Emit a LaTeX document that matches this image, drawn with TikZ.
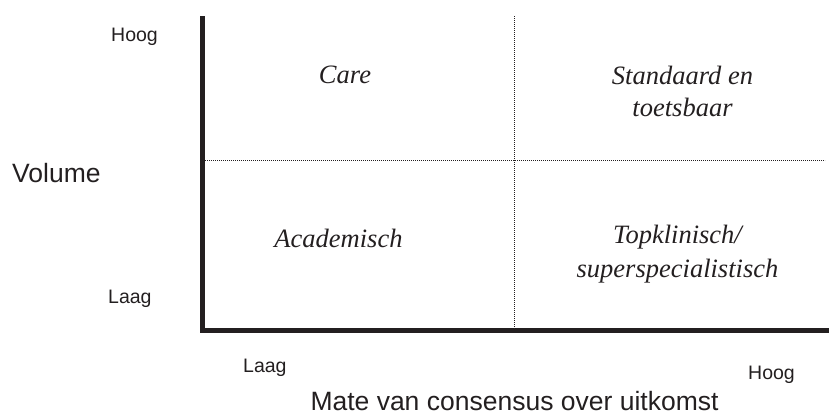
\documentclass[tikz,border=0pt]{standalone}
\usepackage{fontspec}
\setmainfont{Liberation Serif}
\setsansfont{Liberation Sans}
\definecolor{ink}{HTML}{231F20}
\tikzset{
  axisline/.style={line width=5pt, draw=ink},
  gridline/.style={line width=0.9pt, draw=ink, dash pattern=on 0.8pt off 1.2pt},
  small/.style={font=\sffamily\fontsize{19.5}{23}\selectfont, text=ink, inner sep=0pt},
  big/.style={font=\sffamily\fontsize{26.5}{31}\selectfont, text=ink, inner sep=0pt},
  quad/.style={font=\rmfamily\itshape\fontsize{26.5}{32}\selectfont, text=ink, inner sep=0pt, anchor=base},
}
\begin{document}
\begin{tikzpicture}[x=1pt,y=-1pt]
\useasboundingbox (0,0) rectangle (829,416);
% corners of the plot
\coordinate (top) at (202.5,16);
\coordinate (origin) at (202.5,330.5);
\coordinate (right) at (829,330.5);
\coordinate (hl) at (205,160.5);
\coordinate (hr) at (825,160.5);
\coordinate (vt) at (514,16);
\coordinate (vb) at (514,328);
% dotted dividers
\draw[gridline] (hl) -- (hr);
\draw[gridline] (vt) -- (vb);
% axes
\draw[axisline] (top) -- (202.5,333);
\draw[axisline] (200,330.5) -- (right);
% axis labels
\node[small, anchor=base west] (hoogy) at (111,41) {Hoog};
\node[small, anchor=base west] (laagy) at (108,303) {Laag};
\node[big, anchor=base west] (volume) at (12,182) {Volume};
\node[small, anchor=base west] (laagx) at (243,372) {Laag};
\node[small, anchor=base west] (hoogx) at (748,379) {Hoog};
\node[big, anchor=base] (mate) at (514.5,410) {Mate van consensus over uitkomst};
% quadrant labels
\node[quad] (care) at (345,83) {Care};
\node[quad] (std1) at (682.5,84) {Standaard en};
\node[quad] (std2) at (682.5,116) {toetsbaar};
\node[quad] (acad) at (338.5,247) {Academisch};
\node[quad] (top1) at (677.5,243) {Topklinisch/};
\node[quad] (top2) at (677.5,277) {superspecialistisch};
\end{tikzpicture}
\end{document}
